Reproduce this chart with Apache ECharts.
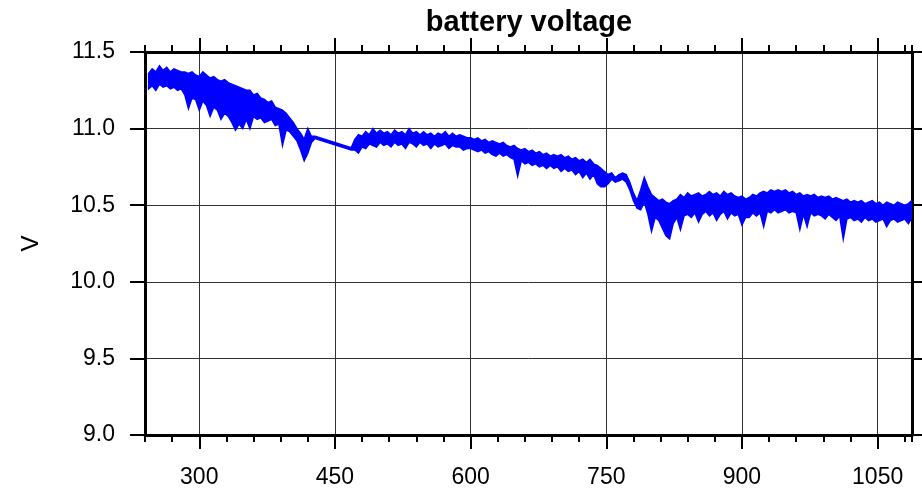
<!DOCTYPE html>
<html>
<head>
<meta charset="utf-8">
<title>battery voltage</title>
<script src="https://cdn.jsdelivr.net/npm/echarts@6/dist/echarts.min.js"></script>
<style>
  html, body { margin: 0; padding: 0; background: #ffffff; }
  #chart { width: 922px; height: 489px; }
</style>
</head>
<body>
<div id="chart"></div>
<script>
// Sample times; each sample holds the max and min voltage seen in its bin
const time = [
  244, 248, 252, 256, 260, 264, 268, 272, 276, 280,
  284, 288, 292, 296, 300, 304, 308, 312, 316, 320,
  324, 328, 332, 336, 340, 344, 348, 352, 356, 360,
  364, 368, 372, 376, 380, 384, 388, 392, 396, 400,
  404, 408, 412, 416, 420, 424, 428,
  468, 472, 476, 480, 484, 488, 492, 496, 500, 504,
  508, 512, 516, 520, 524, 528, 532, 536, 540, 544,
  548, 552, 556, 560, 564, 568, 572, 576, 580, 584,
  588, 592, 596, 600, 604, 608, 612, 616, 620, 624,
  628, 632, 636, 640, 644, 648, 652, 656, 660, 664,
  668, 672, 676, 680, 684, 688, 692, 696, 700, 704,
  708, 712, 716, 720, 724, 728, 732, 736, 740, 744,
  748, 752, 756, 760, 764, 768, 772, 776, 780, 784,
  788, 792, 796, 800, 804, 808, 812, 816, 820, 824,
  828, 832, 836, 840, 844, 848, 852, 856, 860, 864,
  868, 872, 876, 880, 884, 888, 892, 896, 900, 904,
  908, 912, 916, 920, 924, 928, 932, 936, 940, 944,
  948, 952, 956, 960, 964, 968, 972, 976, 980, 984,
  988, 992, 996, 1000, 1004, 1008, 1012, 1016, 1020, 1024,
  1028, 1032, 1036, 1040, 1044, 1048, 1052, 1056, 1060, 1064,
  1068, 1072, 1076, 1080, 1084, 1088
];

const vMax = [
  11.36, 11.39, 11.37, 11.41, 11.38, 11.40, 11.37, 11.39, 11.38, 11.37,
  11.37, 11.36, 11.37, 11.35, 11.34, 11.37, 11.35, 11.33, 11.34, 11.32,
  11.31, 11.32, 11.30, 11.29, 11.28, 11.27, 11.26, 11.25, 11.25, 11.22,
  11.23, 11.20, 11.19, 11.17, 11.18, 11.14, 11.13, 11.12, 11.10, 11.07,
  11.04, 11.00, 10.97, 10.93, 11.00, 10.95, 10.95,
  10.875, 10.93, 10.96, 10.95, 10.98, 10.96, 11.00, 10.97, 10.99, 10.97,
  10.98, 10.96, 10.99, 10.97, 10.98, 10.96, 11.00, 10.97, 10.98, 10.96,
  10.98, 10.96, 10.97, 10.95, 10.97, 10.96, 10.98, 10.95, 10.97, 10.95,
  10.96, 10.95, 10.94, 10.94, 10.93, 10.94, 10.92, 10.93, 10.91, 10.92,
  10.91, 10.90, 10.91, 10.89, 10.88, 10.89, 10.87, 10.86, 10.87, 10.85,
  10.86, 10.84, 10.85, 10.83, 10.84, 10.82, 10.83, 10.82, 10.83, 10.81,
  10.82, 10.80, 10.81, 10.79, 10.80, 10.78, 10.80, 10.77, 10.76, 10.74,
  10.72, 10.70, 10.71, 10.68, 10.70, 10.71, 10.70, 10.65, 10.58, 10.53,
  10.60, 10.68, 10.62, 10.57, 10.55, 10.53, 10.54, 10.52, 10.51, 10.53,
  10.54, 10.57, 10.55, 10.58, 10.56, 10.57, 10.58, 10.56, 10.57, 10.59,
  10.57, 10.58, 10.56, 10.59, 10.57, 10.58, 10.56, 10.55, 10.56, 10.54,
  10.55, 10.57, 10.56, 10.58, 10.59, 10.58, 10.60, 10.59, 10.60, 10.59,
  10.60, 10.58, 10.59, 10.57, 10.58, 10.56, 10.57, 10.56, 10.57, 10.55,
  10.56, 10.55, 10.56, 10.54, 10.55, 10.54, 10.53, 10.54, 10.52, 10.53,
  10.52, 10.53, 10.51, 10.52, 10.53, 10.51, 10.52, 10.50, 10.52, 10.51,
  10.50, 10.52, 10.51, 10.50, 10.51, 10.53
];

const vMin = [
  11.26, 11.28, 11.25, 11.29, 11.27, 11.28, 11.26, 11.27, 11.25, 11.26,
  11.22, 11.13, 11.20, 11.19, 11.12, 11.18, 11.15, 11.08, 11.14, 11.12,
  11.06, 11.10, 11.08, 11.04, 10.99, 11.03, 11.00, 11.06, 11.00, 11.08,
  11.06, 11.07, 11.04, 11.05, 11.06, 11.02, 11.03, 10.89, 10.99, 10.98,
  10.95, 10.92, 10.86, 10.79, 10.84, 10.91, 10.935,
  10.86, 10.86, 10.84, 10.88, 10.87, 10.90, 10.89, 10.88, 10.91, 10.89,
  10.90, 10.88, 10.91, 10.89, 10.90, 10.87, 10.91, 10.90, 10.88, 10.91,
  10.89, 10.90, 10.87, 10.90, 10.88, 10.89, 10.90, 10.87, 10.89, 10.88,
  10.88, 10.86, 10.87, 10.87, 10.86, 10.85, 10.86, 10.84, 10.85, 10.83,
  10.82, 10.84, 10.82, 10.83, 10.81, 10.80, 10.69, 10.79, 10.77, 10.78,
  10.76, 10.77, 10.75, 10.76, 10.74, 10.76, 10.74, 10.75, 10.72, 10.74,
  10.72, 10.73, 10.70, 10.72, 10.68, 10.71, 10.67, 10.70, 10.64, 10.62,
  10.62, 10.64, 10.67, 10.65, 10.66, 10.67, 10.65, 10.60, 10.53, 10.48,
  10.47, 10.52, 10.44, 10.33, 10.42, 10.40, 10.35, 10.30, 10.28, 10.38,
  10.42, 10.34, 10.43, 10.44, 10.42, 10.45, 10.39, 10.44, 10.46, 10.43,
  10.45, 10.40, 10.44, 10.46, 10.41, 10.45, 10.43, 10.44, 10.37, 10.42,
  10.42, 10.45, 10.43, 10.45, 10.36, 10.46, 10.45, 10.47, 10.45, 10.46,
  10.47, 10.45, 10.46, 10.45, 10.34, 10.44, 10.36, 10.45, 10.43, 10.44,
  10.43, 10.41, 10.44, 10.42, 10.40, 10.43, 10.28, 10.41, 10.42, 10.40,
  10.41, 10.39, 10.42, 10.40, 10.41, 10.39, 10.40, 10.41, 10.36, 10.40,
  10.41, 10.39, 10.40, 10.41, 10.38, 10.42
];

// Axis ranges and labelled ticks
const xMin = 240;
const xMax = 1088;
const xMajorTicks = [300, 450, 600, 750, 900, 1050];
const xMinorStep = 30;
const yMin = 9.0;
const yMax = 11.5;
const yStep = 0.5;

const FONT = "'Liberation Sans', Arial, Helvetica, sans-serif";

const samples = time.map((t, i) => [t, vMax[i], vMin[i]]);

const frameLine = { show: true, onZero: false, lineStyle: { color: '#000', width: 3 } };

function majorXAxis(position, showLabels) {
  return {
    type: 'value', position: position, min: xMin, max: xMax,
    axisLine: frameLine,
    axisTick: { show: true, inside: false, length: 14, customValues: xMajorTicks,
                lineStyle: { color: '#000', width: 2 } },
    axisLabel: { show: showLabels, customValues: xMajorTicks, margin: 31,
                 fontSize: 23, color: '#000', fontFamily: FONT,
                 formatter: v => String(v) },
    splitLine: { show: position === 'bottom', lineStyle: { color: '#333', width: 1 } }
  };
}

function minorXAxis(position) {
  return {
    type: 'value', position: position, min: xMin, max: xMax, interval: xMinorStep,
    axisLine: { show: false },
    axisTick: { show: true, inside: false, length: 7, lineStyle: { color: '#000', width: 2 } },
    axisLabel: { show: false },
    splitLine: { show: false }
  };
}

const chart = echarts.init(document.getElementById('chart'), null, { renderer: 'canvas' });

chart.setOption({
  animation: false,
  backgroundColor: '#ffffff',
  title: {
    text: 'battery voltage',
    left: 529, top: 8, padding: 0, textAlign: 'center',
    textStyle: { fontFamily: FONT, fontSize: 29, fontWeight: 'bold', color: '#000' }
  },
  grid: { left: 145, right: 10, top: 52, bottom: 53, containLabel: false },
  xAxis: [
    majorXAxis('bottom', true),
    minorXAxis('bottom'),
    majorXAxis('top', false),
    minorXAxis('top')
  ],
  yAxis: [
    {
      type: 'value', position: 'left', min: yMin, max: yMax, interval: yStep,
      name: 'V', nameLocation: 'middle', nameGap: 102,
      nameTextStyle: { fontFamily: FONT, fontSize: 24, color: '#000' },
      axisLine: frameLine,
      axisTick: { show: true, inside: false, length: 15, lineStyle: { color: '#000', width: 2 } },
      axisLabel: { margin: 30, fontSize: 23, color: '#000', fontFamily: FONT,
                   formatter: v => v.toFixed(1) },
      splitLine: { show: true, lineStyle: { color: '#333', width: 1 } }
    },
    {
      type: 'value', position: 'right', min: yMin, max: yMax, interval: yStep,
      axisLine: frameLine,
      axisTick: { show: true, inside: false, length: 15, lineStyle: { color: '#000', width: 2 } },
      axisLabel: { show: false },
      splitLine: { show: false }
    }
  ],
  series: [
    {
      // Min/max envelope of the voltage drawn as one filled outline:
      // the max values left to right, then the min values right to left.
      type: 'custom',
      name: 'battery voltage',
      xAxisIndex: 0,
      yAxisIndex: 0,
      clip: true,
      data: samples,
      encode: { x: 0, y: [1, 2] },
      renderItem: function (params, api) {
        if (params.dataIndexInside !== 0) return null;
        const n = params.dataInsideLength;
        const pts = [];
        for (let i = 0; i < n; i++) {
          pts.push(api.coord([api.value(0, i), api.value(1, i)]));
        }
        for (let i = n - 1; i >= 0; i--) {
          pts.push(api.coord([api.value(0, i), api.value(2, i)]));
        }
        return {
          type: 'polygon',
          shape: { points: pts },
          style: { fill: '#0000ff', stroke: '#0000ff', lineWidth: 1.5, lineJoin: 'miter' }
        };
      }
    }
  ]
});
</script>
</body>
</html>
